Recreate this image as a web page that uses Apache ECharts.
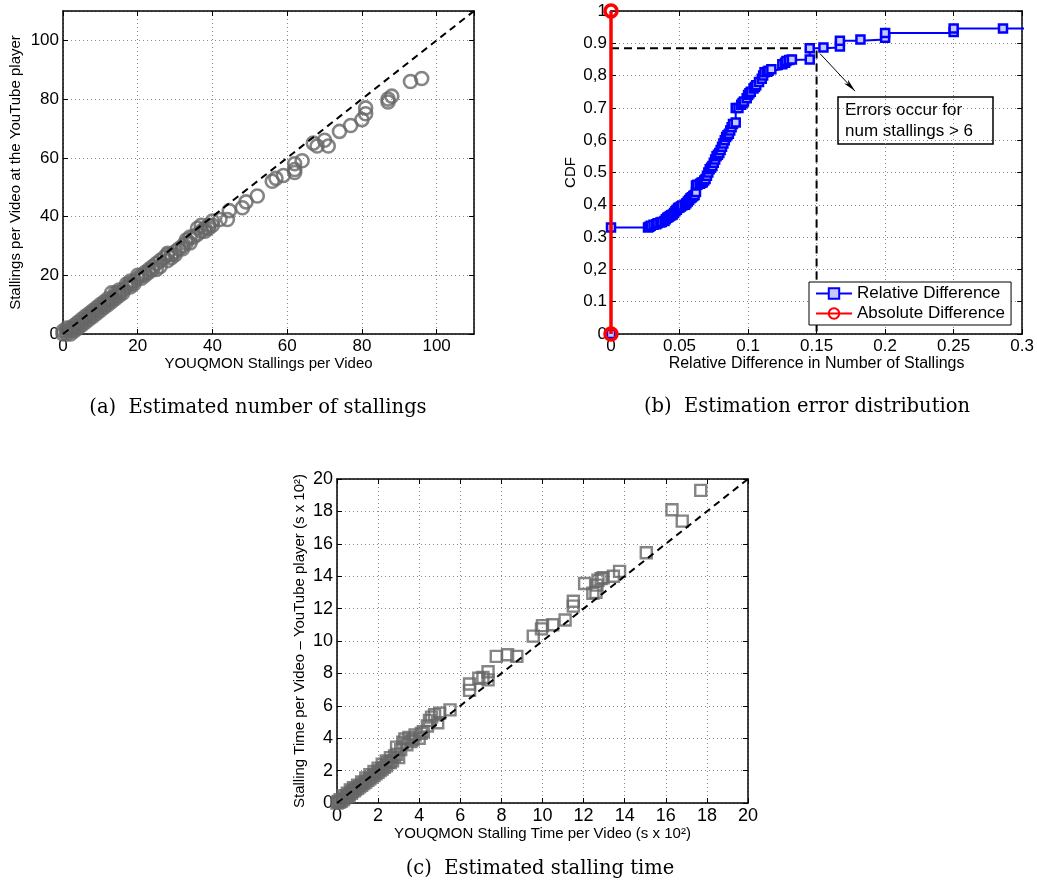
<!DOCTYPE html>
<html>
<head>
<meta charset="utf-8">
<script src="https://cdn.jsdelivr.net/npm/echarts@6/dist/echarts.min.js"></script>
<style>
  html, body { margin: 0; padding: 0; background: #fff; }
  #chart { width: 1037px; height: 889px; }
</style>
</head>
<body>
<div id="chart"></div>
<script>
// (a) stallings per video: [YOUQMON, YouTube player]
const stallingsPoints = [
  [0,0],[0,1],[1,0],[1,1],[1,2],[2,1],[2,2],[2,0],[3,2],[3,3],[3,1],[4,3],[4,4],[4,2],
  [5,4],[5,5],[5,3],[6,5],[6,6],[6,4],[7,6],[7,7],[7,5],[8,7],[8,8],[8,6],[9,8],[9,9],
  [9,7],[10,9],[10,10],[10,8],[11,10],[11,11],[11,9],[12,11],[12,12],[12,10],[13,12],
  [13,14],[13,11],[14,13],[14,14],[14,12],[15,14],[15,15],[15,13],[16,15],[16,14],
  [17,16],[17,17],[18,17],[18,18],[18,16],[19,18],[19,17],[20,19],[20,20],[21,20],
  [21,19],[22,21],[22,20],[23,22],[23,21],[24,23],[24,22],[25,24],[25,22],[26,25],
  [26,23],[27,26],[28,27.5],[28,27],[28,25],[29,27],[29,26],[30,28],[30,27],[31,29],
  [32,30],[32,29],[33,31],[33,32],[34,31],[34,33],[35,33],[36,34],[36,36],[37,35],
  [37,37],[38,36],[38,35],[39,36],[39,37],[40,38.5],[40,37],[42,39],[44,39],[44.5,42],
  [48,43],[49,45],[52,47],[56,52],[57,53],[59,54],[62,55],[62,56],[62,58],[64,59],
  [67,65],[68,64],[70,66],[71,64],[74,69],[77,71],[80,73],[81,75],[81,77],[87,79],
  [87,80],[88,81],[93,86],[96,87]
];

// (b) CDF of the relative difference in number of stallings
const relDiff = [
  0, 0, 0.027, 0.028, 0.029, 0.031, 0.033, 0.034, 0.036, 0.037, 0.039, 0.040, 0.041,
  0.042, 0.043, 0.044, 0.045, 0.046, 0.047, 0.048, 0.049, 0.050, 0.051, 0.052, 0.054,
  0.055, 0.056, 0.057, 0.058, 0.059, 0.060, 0.061, 0.062, 0.062, 0.063, 0.065, 0.066,
  0.067, 0.068, 0.069, 0.070, 0.071, 0.072, 0.073, 0.074, 0.075, 0.076, 0.077, 0.078,
  0.079, 0.080, 0.081, 0.082, 0.083, 0.084, 0.085, 0.086, 0.087, 0.088, 0.089, 0.091,
  0.091, 0.093, 0.095, 0.096, 0.097, 0.099, 0.100, 0.101, 0.102, 0.104, 0.105, 0.106,
  0.108, 0.110, 0.111, 0.112, 0.114, 0.115, 0.117, 0.125, 0.127, 0.128, 0.130, 0.132,
  0.145, 0.145, 0.155, 0.167, 0.167, 0.182, 0.200, 0.200, 0.250, 0.250, 0.286, 0.333
];
const relDiffCdf = [
  0, 0.33, 0.33, 0.332, 0.335, 0.338, 0.34, 0.343, 0.345, 0.347, 0.35, 0.355, 0.36,
  0.362, 0.365, 0.368, 0.37, 0.375, 0.38, 0.385, 0.39, 0.392, 0.395, 0.398, 0.40,
  0.405, 0.41, 0.415, 0.42, 0.423, 0.427, 0.43, 0.44, 0.46, 0.462, 0.465, 0.468,
  0.47, 0.475, 0.48, 0.49, 0.50, 0.51, 0.515, 0.52, 0.53, 0.54, 0.55, 0.555,
  0.56, 0.57, 0.58, 0.59, 0.60, 0.61, 0.615, 0.62, 0.63, 0.64, 0.65, 0.655,
  0.70, 0.70, 0.71, 0.715, 0.72, 0.73, 0.74, 0.745, 0.75, 0.76, 0.765, 0.77,
  0.78, 0.79, 0.80, 0.81, 0.812, 0.815, 0.82, 0.835, 0.84, 0.845, 0.848, 0.85,
  0.85, 0.885, 0.887, 0.89, 0.908, 0.912, 0.917, 0.932, 0.935, 0.946, 0.946, 0.96
];
const absDiff = [0, 0];
const absDiffCdf = [0, 1];
const cdfTickLabels = ['0', '0.1', '0,2', '0.3', '0,4', '0.5', '0,6', '0.7', '0,8', '0.9', '1'];
const thresholdRelDiff = 0.15;
const thresholdCdf = 0.885;

// (c) stalling time per video in units of 100 s: [YOUQMON, YouTube player]
const stallTimePoints = [
  [0,0],[0.05,0.1],[0.1,0.05],[0.15,0.2],[0.2,0.1],[0.3,0.2],[0.3,0.45],[0.35,0.3],
  [0.45,0.4],[0.5,0.6],[0.55,0.4],[0.6,0.5],[0.65,0.8],[0.7,0.6],[0.75,0.7],[0.8,0.95],
  [0.85,0.75],[0.9,0.85],[1.0,1.1],[1.0,0.9],[1.1,1.0],[1.2,1.3],[1.2,1.1],[1.3,1.2],
  [1.4,1.55],[1.4,1.3],[1.5,1.4],[1.6,1.75],[1.6,1.5],[1.7,1.6],[1.8,1.95],[1.8,1.7],
  [1.9,1.8],[2.0,2.15],[2.0,1.9],[2.1,2.0],[2.2,2.4],[2.2,2.1],[2.3,2.2],[2.4,2.6],
  [2.4,2.3],[2.5,2.5],[2.6,2.8],[2.6,2.5],[2.7,2.6],[2.8,2.9],[2.9,3.0],[2.9,3.45],
  [3.0,2.8],[3.1,3.3],[3.2,3.75],[3.3,3.95],[3.4,3.6],[3.5,4.05],[3.6,3.8],[3.7,3.9],
  [3.8,4.2],[4.0,4.0],[4.1,4.3],[4.2,4.4],[4.4,4.75],[4.5,5.1],[4.6,5.3],[4.75,5.45],
  [4.9,4.95],[5.0,5.55],[5.5,5.75],[6.45,6.95],[6.45,7.35],[6.9,7.7],[7.1,7.75],
  [7.35,7.6],[7.35,8.1],[7.75,9.05],[8.3,9.15],[8.75,9.05],[9.55,10.3],[9.95,10.75],
  [10.0,10.95],[10.5,11.0],[11.1,11.3],[11.5,12.15],[11.5,12.45],[12.05,13.55],
  [12.45,12.95],[12.6,13.0],[12.65,13.45],[12.7,13.75],[12.85,13.85],[12.95,13.9],
  [13.45,14.0],[13.75,14.3],[15.05,15.45],[16.3,18.1],[16.8,17.4],[17.7,19.3]
];

// y = x reference lines
const diagA = [[0, 0], [110, 110]];
const diagC = [[0, 0], [20, 20]];

const SANS = '"Liberation Sans", Arial, Helvetica, sans-serif';
const SERIF = '"DejaVu Serif", "Liberation Serif", serif';
const GRAY = '#676767';

function mainAxis(gridIndex, min, max, interval, extra) {
  return Object.assign({
    type: 'value', gridIndex, min, max, interval,
    axisLine: { show: true, onZero: false, lineStyle: { color: '#000', width: 1.5 } },
    axisTick: { show: true, inside: true, length: 5, lineStyle: { color: '#000', width: 1 } },
    splitLine: { show: true, lineStyle: { color: '#8a8a8a', width: 1, type: [1, 3] } },
    axisLabel: { color: '#000', fontSize: 17, fontFamily: SANS, margin: 4 },
    nameLocation: 'middle',
    nameTextStyle: { color: '#000', fontSize: 15, fontFamily: SANS }
  }, extra || {});
}
function mirrorAxis(gridIndex, min, max, interval, position) {
  return {
    type: 'value', gridIndex, min, max, interval, position,
    axisLine: { show: true, onZero: false, lineStyle: { color: '#000', width: 1.5 } },
    axisTick: { show: true, inside: true, length: 5, lineStyle: { color: '#000', width: 1 } },
    splitLine: { show: false },
    axisLabel: { show: false }
  };
}

const zip = (xs, ys) => xs.map((x, i) => [x, ys[i]]);

const chart = echarts.init(document.getElementById('chart'), null, { renderer: 'canvas' });

chart.setOption({
  backgroundColor: '#fff',
  animation: false,
  grid: [
    { left: 63, top: 11, width: 411, height: 323 },
    { left: 611, top: 11, width: 412, height: 323 },
    { left: 337, top: 479, width: 411, height: 324 }
  ],
  xAxis: [
    mainAxis(0, 0, 110, 20, {
      name: 'YOUQMON Stallings per Video', nameGap: 22,
      axisLabel: { color: '#000', fontSize: 17, fontFamily: SANS, margin: 4, showMaxLabel: false }
    }),
    mirrorAxis(0, 0, 110, 20, 'top'),
    mainAxis(1, 0, 0.3, 0.05, {
      name: 'Relative Difference in Number of Stallings', nameGap: 22,
      nameTextStyle: { color: '#000', fontSize: 16, fontFamily: SANS }
    }),
    mirrorAxis(1, 0, 0.3, 0.05, 'top'),
    mainAxis(2, 0, 20, 2, {
      name: 'YOUQMON Stalling Time per Video (s x 10²)', nameGap: 21,
      axisLabel: { color: '#000', fontSize: 18, fontFamily: SANS, margin: 4 }
    }),
    mirrorAxis(2, 0, 20, 2, 'top')
  ],
  yAxis: [
    mainAxis(0, 0, 110, 20, {
      name: 'Stallings per Video at the YouTube player', nameGap: 40,
      axisLabel: { color: '#000', fontSize: 17, fontFamily: SANS, margin: 4, showMaxLabel: false }
    }),
    mirrorAxis(0, 0, 110, 20, 'right'),
    mainAxis(1, 0, 1, 0.1, {
      name: 'CDF', nameGap: 33,
      nameTextStyle: { color: '#000', fontSize: 15, fontFamily: SANS },
      axisLabel: {
        color: '#000', fontSize: 17, fontFamily: SANS, margin: 4,
        formatter: v => cdfTickLabels[Math.round(v * 10)]
      }
    }),
    mirrorAxis(1, 0, 1, 0.1, 'right'),
    mainAxis(2, 0, 20, 2, {
      name: 'Stalling Time per Video – YouTube player (s x 10²)', nameGap: 30,
      axisLabel: { color: '#000', fontSize: 18, fontFamily: SANS, margin: 4 }
    }),
    mirrorAxis(2, 0, 20, 2, 'right')
  ],
  legend: {
    data: ['Relative Difference', 'Absolute Difference'],
    orient: 'vertical',
    left: 809, top: 282,
    padding: [3, 6, 3, 6],
    itemGap: 3,
    itemWidth: 36, itemHeight: 13,
    backgroundColor: '#fff',
    borderColor: '#000', borderWidth: 1,
    textStyle: { color: '#000', fontSize: 17, fontFamily: SANS },
    z: 10
  },
  series: [
    // (a)
    {
      type: 'scatter', xAxisIndex: 0, yAxisIndex: 0,
      data: stallingsPoints,
      symbol: 'circle', symbolSize: 13,
      itemStyle: { color: 'rgba(255,255,255,0)', borderColor: GRAY, borderWidth: 2.6 },
      z: 2
    },
    {
      type: 'line', xAxisIndex: 0, yAxisIndex: 0,
      data: diagA, symbol: 'none',
      lineStyle: { color: '#000', width: 2, type: [7, 5] },
      z: 3
    },
    // (b)
    {
      type: 'line', xAxisIndex: 2, yAxisIndex: 2,
      data: [[0, thresholdCdf], [thresholdRelDiff, thresholdCdf], [thresholdRelDiff, 0]],
      symbol: 'none',
      lineStyle: { color: '#000', width: 2, type: [8, 5] },
      z: 1,
      markLine: {
        silent: true,
        symbol: ['none', 'arrow'], symbolSize: [4, 13],
        label: { show: false },
        lineStyle: { color: '#000', width: 1, type: 'solid' },
        data: [[{ coord: [0.1525, 0.868] }, { coord: [0.178, 0.752] }]]
      }
    },
    {
      name: 'Relative Difference',
      type: 'line', xAxisIndex: 2, yAxisIndex: 2,
      step: 'end',
      data: zip(relDiff, relDiffCdf),
      symbol: 'rect', symbolSize: 8, showAllSymbol: true,
      itemStyle: { color: '#c8c8ff', borderColor: '#0000ff', borderWidth: 2.5 },
      lineStyle: { color: '#0000ff', width: 2 },
      z: 2
    },
    {
      name: 'Absolute Difference',
      type: 'line', xAxisIndex: 2, yAxisIndex: 2,
      data: zip(absDiff, absDiffCdf),
      symbol: 'circle', symbolSize: 12, clip: false,
      itemStyle: { color: 'rgba(255,255,255,0)', borderColor: '#ff0000', borderWidth: 3.5 },
      lineStyle: { color: '#ff0000', width: 3.5 },
      z: 3
    },
    // (c)
    {
      type: 'scatter', xAxisIndex: 4, yAxisIndex: 4,
      data: stallTimePoints,
      symbol: 'rect', symbolSize: 11,
      itemStyle: { color: 'rgba(255,255,255,0)', borderColor: GRAY, borderWidth: 2.4 },
      z: 2
    },
    {
      type: 'line', xAxisIndex: 4, yAxisIndex: 4,
      data: diagC, symbol: 'none',
      lineStyle: { color: '#000', width: 2, type: [7, 5] },
      z: 3
    }
  ],
  graphic: [
    {
      type: 'group', z: 20,
      children: [
        {
          type: 'rect',
          shape: { x: 838, y: 97, width: 155, height: 47 },
          style: { fill: '#fff', stroke: '#000', lineWidth: 1.5 }
        },
        {
          type: 'text', x: 845, y: 120.5,
          style: {
            text: 'Errors occur for\nnum stallings > 6',
            font: '17px ' + SANS, fill: '#000',
            lineHeight: 21, verticalAlign: 'middle'
          }
        }
      ]
    },
    {
      type: 'text', x: 258, y: 408, z: 20,
      style: { text: '(a)  Estimated number of stallings', font: '19.5px ' + SERIF, fill: '#000', align: 'center', verticalAlign: 'middle' }
    },
    {
      type: 'text', x: 807, y: 407, z: 20,
      style: { text: '(b)  Estimation error distribution', font: '19.5px ' + SERIF, fill: '#000', align: 'center', verticalAlign: 'middle' }
    },
    {
      type: 'text', x: 540, y: 869, z: 20,
      style: { text: '(c)  Estimated stalling time', font: '19.5px ' + SERIF, fill: '#000', align: 'center', verticalAlign: 'middle' }
    }
  ]
});
</script>
</body>
</html>
